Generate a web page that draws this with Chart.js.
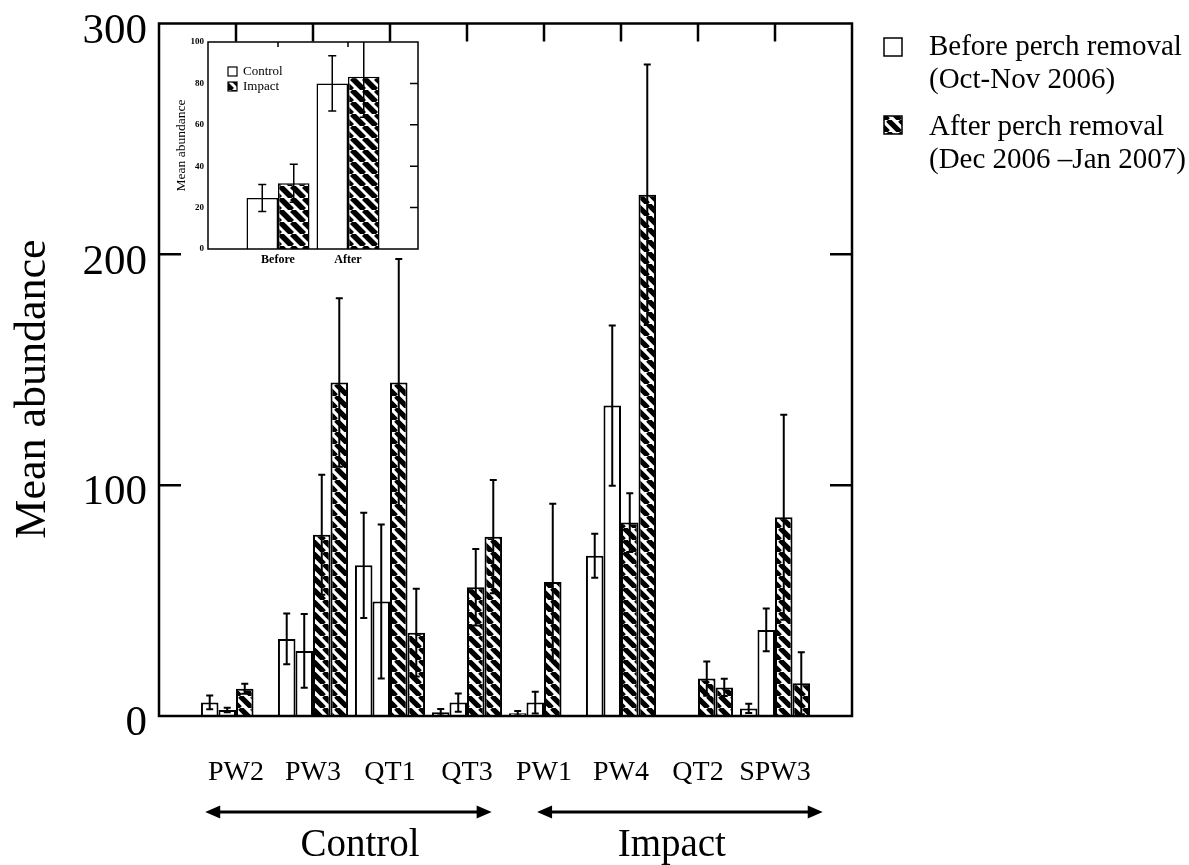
<!DOCTYPE html>
<html>
<head>
<meta charset="utf-8">
<script src="https://cdn.jsdelivr.net/npm/chart.js@4.4.0/dist/chart.umd.min.js"></script>
<style>
  html, body { margin: 0; padding: 0; background: #fff; }
  #wrap { position: relative; width: 1189px; height: 865px; }
  #mainChart { position: absolute; left: 0; top: 0; }
  #insetChart { position: absolute; left: 160px; top: 30px; }
</style>
</head>
<body>
<div id="wrap">
  <canvas id="mainChart" width="1189" height="865"></canvas>
  <canvas id="insetChart" width="265" height="250"></canvas>
</div>
<script>
const SERIF = "'Liberation Serif', 'Times New Roman', serif";

// main chart: 8 sites, two sampling dates before and two after perch removal
const sites = ['PW2', 'PW3', 'QT1', 'QT3', 'PW1', 'PW4', 'QT2', 'SPW3'];
const before1 = [5.9, 33.4, 65.3, 1.6, 1.2, 69.4, 0, 3.3];
const before1Err = [3, 11, 22.8, 1.4, 1, 9.5, 0, 2];
const before2 = [2.6, 28.2, 49.6, 5.8, 5.8, 134.5, 0, 37.3];
const before2Err = [1, 16, 33.4, 4, 4.7, 34.7, 0, 9.3];
const after1 = [11.8, 78.5, 144.5, 55.8, 58, 83.8, 16.2, 86.1];
const after1Err = [2.2, 26, 53.5, 16.6, 34, 12.7, 7.4, 44.4];
const after2 = [0, 144.5, 36.1, 77.7, 0, 225.8, 12.4, 14.2];
const after2Err = [0, 36.5, 19, 24.5, 0, 56.4, 3.7, 13.4];
const yTicks = [0, 100, 200, 300];

// inset: Control vs Impact, before / after
const periods = ['Before', 'After'];
const insetControl = [24.6, 80];
const insetControlErr = [6.5, 13.3];
const insetImpact = [31.8, 83.2];
const insetImpactErr = [9.2, 19.6];
const insetTicks = [0, 20, 40, 60, 80, 100];

function hatch(size, lw) {
  const c = document.createElement('canvas');
  c.width = size; c.height = size;
  const g = c.getContext('2d');
  g.fillStyle = '#fff';
  g.fillRect(0, 0, size, size);
  g.strokeStyle = '#000';
  g.lineWidth = lw;
  g.beginPath();
  for (const k of [-size, 0, size]) { g.moveTo(k, 0); g.lineTo(k + size, size); }
  g.stroke();
  return g.createPattern(c, 'repeat');
}
const mainHatch = hatch(12, 5.2);
const insetHatch = hatch(12, 5.6);

function barSet(label, values, err, fill, bw) {
  return {
    label,
    data: values.map((v, i) => ({ x: i + 1, y: v })),
    err,
    backgroundColor: fill,
    borderColor: '#000',
    borderWidth: bw
  };
}

// error bars drawn from the bar elements and the y scale
const errorBars = {
  id: 'errorBars',
  afterDatasetsDraw(chart, args, opts) {
    const { ctx, chartArea: a } = chart;
    const y = chart.scales.y;
    ctx.save();
    ctx.beginPath();
    ctx.rect(a.left, a.top, a.width, a.height);
    ctx.clip();
    ctx.strokeStyle = '#000';
    ctx.lineWidth = opts.lineWidth;
    chart.data.datasets.forEach((ds, di) => {
      chart.getDatasetMeta(di).data.forEach((bar, i) => {
        const e = ds.err[i];
        if (!e) return;
        const v = ds.data[i].y;
        const top = y.getPixelForValue(v + e);
        const bot = y.getPixelForValue(Math.max(0, v - e));
        ctx.beginPath();
        ctx.moveTo(bar.x, top); ctx.lineTo(bar.x, bot);
        ctx.moveTo(bar.x - opts.cap, top); ctx.lineTo(bar.x + opts.cap, top);
        ctx.moveTo(bar.x - opts.cap, bot); ctx.lineTo(bar.x + opts.cap, bot);
        ctx.stroke();
      });
    });
    ctx.restore();
  }
};

function arrow(ctx, x1, x2, y) {
  ctx.beginPath();
  ctx.moveTo(x1 + 10, y); ctx.lineTo(x2 - 10, y);
  ctx.stroke();
  ctx.beginPath();
  ctx.moveTo(x1, y); ctx.lineTo(x1 + 15, y - 6.5); ctx.lineTo(x1 + 15, y + 6.5); ctx.closePath();
  ctx.moveTo(x2, y); ctx.lineTo(x2 - 15, y - 6.5); ctx.lineTo(x2 - 15, y + 6.5); ctx.closePath();
  ctx.fill();
}

const mainDecor = {
  id: 'mainDecor',
  afterDraw(chart) {
    const { ctx, chartArea: a, scales: { x, y } } = chart;
    ctx.save();
    ctx.strokeStyle = '#000';
    ctx.fillStyle = '#000';
    ctx.lineWidth = 2.5;
    ctx.strokeRect(a.left, a.top, a.width, a.height);
    ctx.beginPath();
    sites.forEach((s, i) => {
      const px = x.getPixelForValue(i + 1);
      ctx.moveTo(px, a.top); ctx.lineTo(px, a.top + 18);
    });
    yTicks.slice(1, -1).forEach(v => {
      const py = y.getPixelForValue(v);
      ctx.moveTo(a.left, py); ctx.lineTo(a.left + 22, py);
      ctx.moveTo(a.right, py); ctx.lineTo(a.right - 22, py);
    });
    ctx.stroke();

    // y axis title
    ctx.save();
    ctx.translate(33, 389);
    ctx.rotate(-Math.PI / 2);
    ctx.font = '44px ' + SERIF;
    ctx.textAlign = 'center';
    ctx.textBaseline = 'middle';
    ctx.fillText('Mean abundance', 0, 0);
    ctx.restore();

    // Control / Impact arrows
    ctx.lineWidth = 3;
    const ay = 812;
    arrow(ctx, x.getPixelForValue(0.6), x.getPixelForValue(4.32), ay);
    arrow(ctx, x.getPixelForValue(4.91), x.getPixelForValue(8.62), ay);
    ctx.font = '39px ' + SERIF;
    ctx.textAlign = 'center';
    ctx.textBaseline = 'middle';
    ctx.fillText('Control', x.getPixelForValue(2.61), 846);
    ctx.fillText('Impact', x.getPixelForValue(6.66), 846);

    // legend
    ctx.lineWidth = 1.5;
    ctx.fillStyle = '#fff';
    ctx.fillRect(884, 38, 18, 18);
    ctx.strokeRect(884, 38, 18, 18);
    ctx.fillStyle = mainHatch;
    ctx.fillRect(884, 116, 18, 18);
    ctx.strokeRect(884, 116, 18, 18);
    ctx.fillStyle = '#000';
    ctx.font = '29px ' + SERIF;
    ctx.textAlign = 'left';
    ctx.textBaseline = 'alphabetic';
    ctx.fillText('Before perch removal', 929, 55);
    ctx.fillText('(Oct-Nov 2006)', 929, 88);
    ctx.fillText('After perch removal', 929, 135);
    ctx.fillText('(Dec 2006 \u2013Jan 2007)', 929, 168);
    ctx.restore();
  }
};

function noPad(s) {
  s.paddingTop = 0; s.paddingBottom = 0; s.paddingLeft = 0; s.paddingRight = 0;
}

new Chart(document.getElementById('mainChart'), {
  type: 'bar',
  data: {
    datasets: [
      barSet('Before 1', before1, before1Err, '#fff', 2),
      barSet('Before 2', before2, before2Err, '#fff', 2),
      barSet('After 1', after1, after1Err, mainHatch, 2),
      barSet('After 2', after2, after2Err, mainHatch, 2)
    ]
  },
  options: {
    responsive: false,
    animation: false,
    devicePixelRatio: 1,
    layout: { padding: { left: 0, top: 23.5, right: 337, bottom: 0 } },
    datasets: { bar: { categoryPercentage: 0.91, barPercentage: 1 } },
    plugins: {
      legend: { display: false },
      tooltip: { enabled: false },
      errorBars: { cap: 3.5, lineWidth: 2 }
    },
    scales: {
      x: {
        type: 'linear', min: 0, max: 9, offset: false,
        grid: { display: false, drawTicks: false },
        border: { display: false },
        ticks: {
          stepSize: 1, autoSkip: false, color: '#000', padding: 40,
          maxRotation: 0, minRotation: 0,
          font: { family: SERIF, size: 28 },
          callback: v => sites[v - 1] || ''
        },
        afterFit: s => { s.height = 149; noPad(s); }
      },
      y: {
        min: 0, max: 300,
        grid: { display: false, drawTicks: false },
        border: { display: false },
        ticks: {
          stepSize: 100, color: '#000', padding: 12, labelOffset: 8,
          font: { family: SERIF, size: 43, lineHeight: 1 }
        },
        afterFit: s => { s.width = 159; noPad(s); }
      }
    }
  },
  plugins: [errorBars, mainDecor]
});

const insetDecor = {
  id: 'insetDecor',
  beforeDraw(chart) {
    const { ctx, chartArea: a } = chart;
    ctx.save();
    ctx.fillStyle = '#fff';
    ctx.fillRect(a.left, a.top, a.width, a.height);
    ctx.restore();
  },
  afterDraw(chart) {
    const { ctx, chartArea: a, scales: { x, y } } = chart;
    ctx.save();
    ctx.strokeStyle = '#000';
    ctx.lineWidth = 1.5;
    ctx.strokeRect(a.left, a.top, a.width, a.height);
    ctx.beginPath();
    insetTicks.slice(1, -1).forEach(v => {
      const py = y.getPixelForValue(v);
      ctx.moveTo(a.right, py); ctx.lineTo(a.right - 8, py);
    });
    periods.forEach((p, i) => {
      const px = x.getPixelForValue(i + 1);
      ctx.moveTo(px, a.top); ctx.lineTo(px, a.top + 5);
    });
    ctx.stroke();

    // inset legend
    ctx.lineWidth = 1.2;
    ctx.fillStyle = '#fff';
    ctx.fillRect(68, 37, 9, 9);
    ctx.strokeRect(68, 37, 9, 9);
    ctx.fillStyle = insetHatch;
    ctx.fillRect(68, 52, 9, 9);
    ctx.strokeRect(68, 52, 9, 9);
    ctx.fillStyle = '#000';
    ctx.font = '13px ' + SERIF;
    ctx.textAlign = 'left';
    ctx.textBaseline = 'middle';
    ctx.fillText('Control', 83, 42);
    ctx.fillText('Impact', 83, 57);
    ctx.restore();
  }
};

new Chart(document.getElementById('insetChart'), {
  type: 'bar',
  data: {
    datasets: [
      { label: 'Control', data: insetControl.map((v, i) => ({ x: i + 1, y: v })), err: insetControlErr,
        backgroundColor: '#fff', borderColor: '#000', borderWidth: 1.5 },
      { label: 'Impact', data: insetImpact.map((v, i) => ({ x: i + 1, y: v })), err: insetImpactErr,
        backgroundColor: insetHatch, borderColor: '#000', borderWidth: 1.5 }
    ]
  },
  options: {
    responsive: false,
    animation: false,
    devicePixelRatio: 1,
    layout: { padding: { left: 0, top: 12, right: 7, bottom: 0 } },
    datasets: { bar: { categoryPercentage: 0.9, barPercentage: 1 } },
    plugins: {
      legend: { display: false },
      tooltip: { enabled: false },
      errorBars: { cap: 4, lineWidth: 1.5 }
    },
    scales: {
      x: {
        type: 'linear', min: 0, max: 3, offset: false,
        grid: { display: false, drawTicks: false },
        border: { display: false },
        ticks: {
          stepSize: 1, autoSkip: false, color: '#000', padding: 4,
          maxRotation: 0, minRotation: 0,
          font: { family: SERIF, size: 12, weight: 'bold' },
          callback: v => periods[v - 1] || ''
        },
        afterFit: s => { s.height = 31; noPad(s); }
      },
      y: {
        min: 0, max: 100,
        grid: { display: false, drawTicks: false },
        border: { display: false },
        ticks: {
          stepSize: 20, color: '#000', padding: 4,
          font: { family: SERIF, size: 9, weight: 'bold', lineHeight: 1 }
        },
        title: {
          display: true, text: 'Mean abundance', color: '#000',
          padding: { top: 13, bottom: 0 },
          font: { family: SERIF, size: 13.5 }
        },
        afterFit: s => { s.width = 48; noPad(s); }
      }
    }
  },
  plugins: [errorBars, insetDecor]
});
</script>
</body>
</html>
